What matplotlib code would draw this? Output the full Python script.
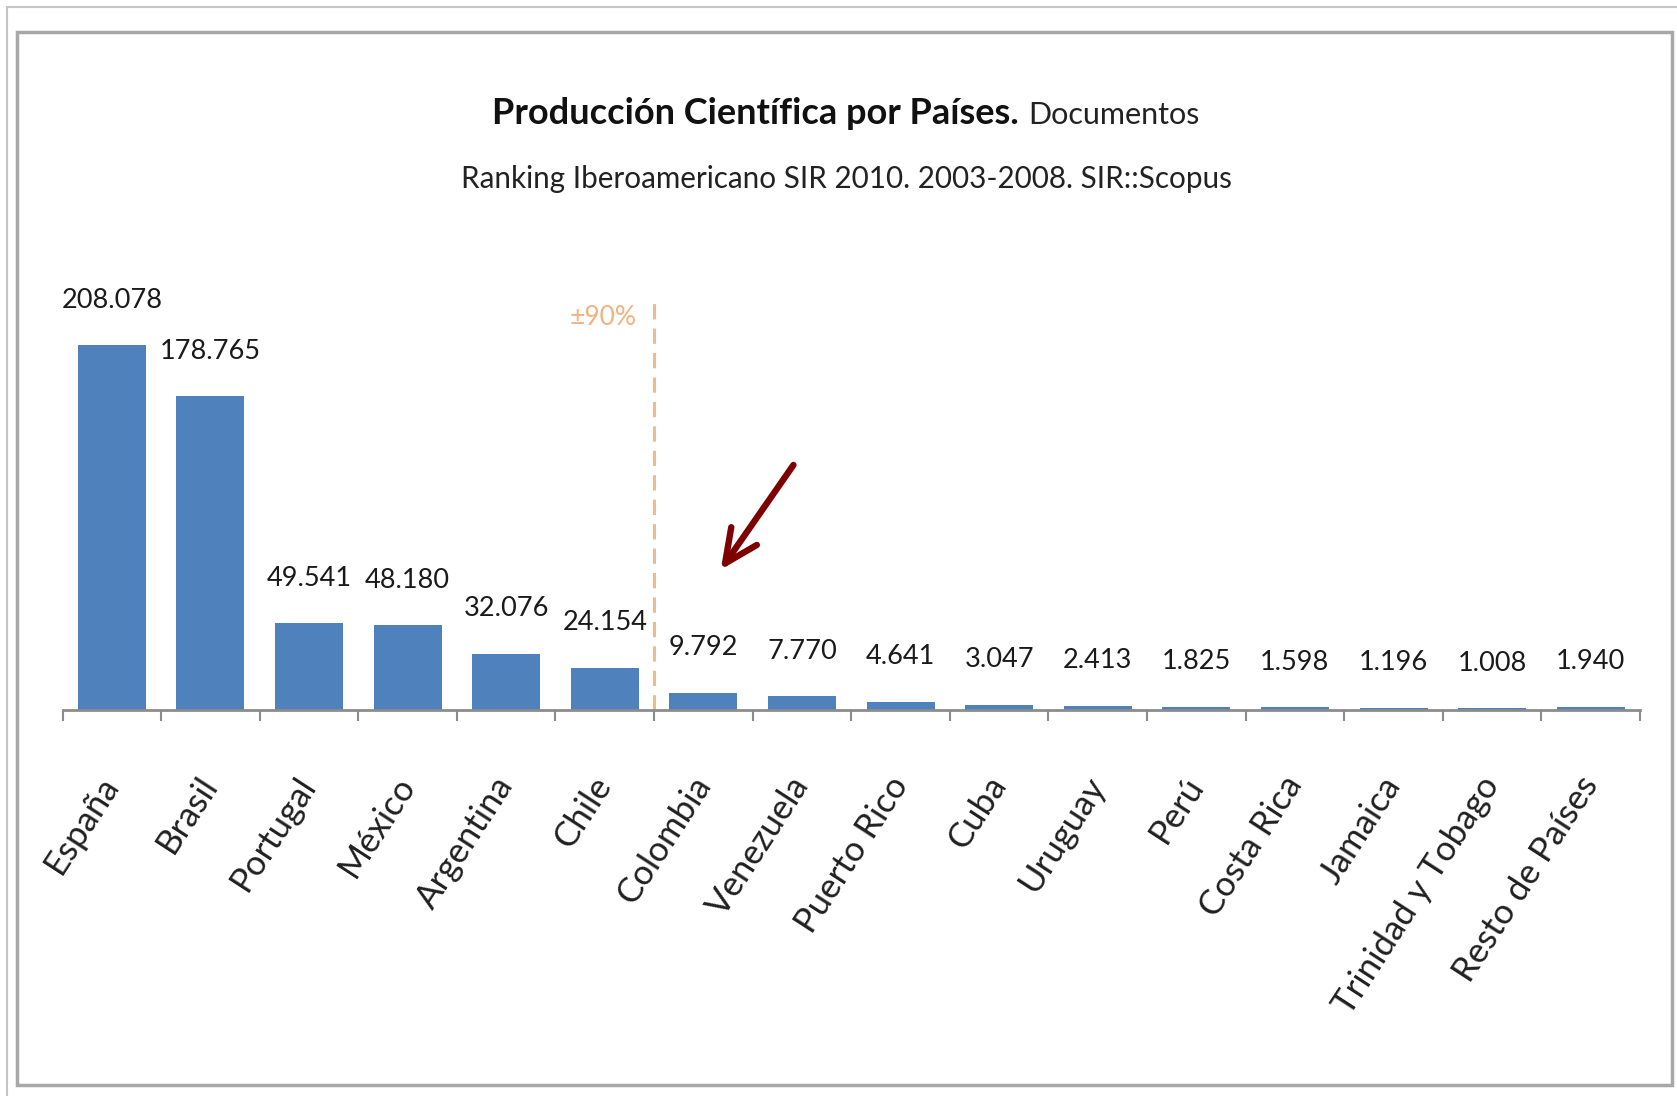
import matplotlib.pyplot as plt
from matplotlib.patches import Rectangle
from matplotlib.transforms import ScaledTranslation
import numpy as np

plt.rcParams["font.family"] = ["Lato", "DejaVu Sans"]

paises = ["España", "Brasil", "Portugal", "México", "Argentina", "Chile",
          "Colombia", "Venezuela", "Puerto Rico", "Cuba", "Uruguay", "Perú",
          "Costa Rica", "Jamaica", "Trinidad y Tobago", "Resto de Países"]
documentos = [208078, 178765, 49541, 48180, 32076, 24154, 9792, 7770, 4641,
              3047, 2413, 1825, 1598, 1196, 1008, 1940]
titulo = "Producción Científica por Países."
titulo_extra = "Documentos"
subtitulo = "Ranking Iberoamericano SIR 2010. 2003-2008. SIR::Scopus"
etiqueta_corte = "±90%"
corte = 5.5  # entre Chile y Colombia

W, H = 1677, 1096
fig = plt.figure(figsize=(W / 100, H / 100), dpi=100)

# marcos de la imagen
fig.patches.append(Rectangle((7 / W, -0.01), (W + 10) / W, (H - 7) / H + 0.01,
                             transform=fig.transFigure, fill=False,
                             edgecolor="#C4C4C4", lw=1.5))
fig.patches.append(Rectangle((17 / W, (H - 1085) / H), (1672 - 17) / W, (1085 - 32) / H,
                             transform=fig.transFigure, fill=False,
                             edgecolor="#A8A8A8", lw=2.5))

ymax = 250000
ax = fig.add_axes([62.5 / W, (H - 710) / H, (1640 - 62.5) / W, ymax * 0.001754 / H])
x = np.arange(len(paises))
ax.bar(x, documentos, width=0.69, color="#4F81BD", zorder=2)
ax.set_xlim(-0.5, len(paises) - 0.5)
ax.set_ylim(0, ymax)

for s in ["top", "left", "right"]:
    ax.spines[s].set_visible(False)
ax.spines["bottom"].set_color("#8C8C8C")
ax.spines["bottom"].set_linewidth(2)
ax.set_yticks([])

ax.set_xticks(x, paises, rotation=57, ha="right", va="center",
              rotation_mode="anchor", fontsize=25, color="#202020")
ax.set_xticks(np.arange(-0.5, len(paises), 1), minor=True)
ax.tick_params(axis="x", which="major", length=0, pad=50)
ax.tick_params(axis="x", which="minor", length=8, width=1.5, color="#8C8C8C",
               direction="out")
shift = ScaledTranslation(0.0, 0, fig.dpi_scale_trans)
for lbl in ax.get_xticklabels():
    lbl.set_transform(lbl.get_transform() + shift)

# valores sobre las barras, con punto como separador de miles
for xi, v in zip(x, documentos):
    ax.annotate(f"{v:,}".replace(",", "."), (xi, v), xytext=(0, 27),
                textcoords="offset points", ha="center", va="baseline",
                fontsize=19.5, color="#1A1A1A")

# línea del 90 %
ax.vlines(corte, 0, 236000, colors="#EDBB8C", lw=2.2, linestyles=(0, (5, 3)))
ax.text(corte - 0.18, 224000, etiqueta_corte, ha="right", va="center",
        fontsize=19, color="#F2B27E")

# flecha hacia Colombia
ax.annotate("", xy=(6.16, 78700), xytext=(6.93, 141000),
            arrowprops=dict(arrowstyle="->,head_length=1.2,head_width=0.56",
                            mutation_scale=20, lw=4.6, color="#7F0000"))

# título en dos partes sobre la misma línea base
t1 = fig.text(0, 1 - 124 / H, titulo, fontsize=26, fontweight="bold",
              va="baseline", color="#111111")
t2 = fig.text(0, 1 - 124 / H, titulo_extra, fontsize=22, va="baseline",
              color="#222222")
fig.text(846 / W, 1 - 188 / H, subtitulo, fontsize=21.3, ha="center",
         va="baseline", color="#222222")
r = fig.canvas.get_renderer()
w1 = t1.get_window_extent(r).width
w2 = t2.get_window_extent(r).width
x0 = 846 - (w1 + 10 + w2) / 2
t1.set_x(x0 / W)
t2.set_x((x0 + w1 + 10) / W)

fig.savefig("out.png", dpi=100)
